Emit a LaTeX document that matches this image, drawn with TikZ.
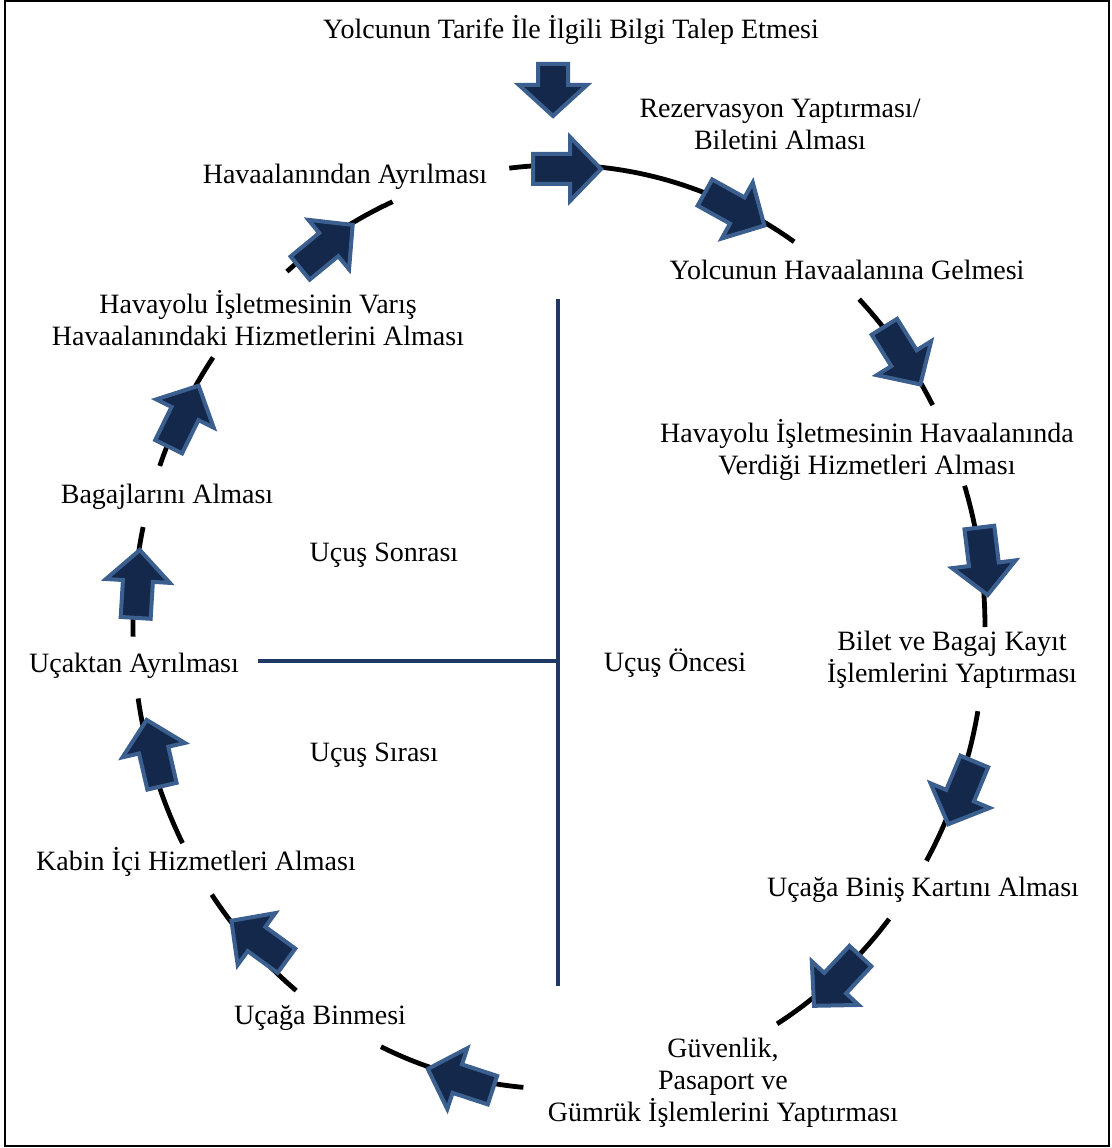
\documentclass[tikz,border=0pt]{standalone}
\usepackage{fontspec}
\setmainfont{Liberation Serif}
\definecolor{arrfill}{HTML}{13284A}
\definecolor{arrborder}{HTML}{3B6090}
\definecolor{divcol}{HTML}{1F3864}
\tikzset{
  lbl/.style={font=\fontsize{21}{24}\selectfont, inner sep=0pt, align=center},
  ring/.style={line width=3.6pt, black},
  blkarrow/.style={fill=arrfill, draw=arrborder, line width=3pt, line join=miter},
  divider/.style={draw=divcol, line width=3pt},
  blk/.pic={\path[blkarrow] (-3,0) -- (-34,-32) -- (-34,-15) -- (-71,-15) -- (-71,15) -- (-34,15) -- (-34,32) -- cycle;},
  blkshort/.pic={\path[blkarrow] (-3,0) -- (-34,-34) -- (-34,-15) -- (-55,-15) -- (-55,15) -- (-34,15) -- (-34,34) -- cycle;}
}
\begin{document}
\begin{tikzpicture}[x=0.75pt,y=-0.75pt]
\useasboundingbox (0,0) rectangle (1111,1148);
\draw[line width=1.5pt] (5,1.5) rectangle (1109,1146);

% ring segments (ellipse centre 559,627; radii 426,462)
\foreach \a/\b in {263.3/303.5, 314.8/331.3, 342.2/360, 10.5/30.4, 39.2/59.2, 94.8/114.7, 128.1/144.6, 152.1/171.1, 178.8/192.5, 200.4/215.7, 230.3/247}
  \draw[ring] plot[domain=\a:\b, samples=40] ({559+426*cos(\x)},{627+462*sin(\x)});

% divider lines
\coordinate (vtop) at (558,299);
\coordinate (vbot) at (558,986);
\coordinate (hl) at (258,661);
\coordinate (hr) at (558,661);
\draw[divider] (vtop) -- (vbot);
\draw[divider] (hl) -- (hr);

% block arrows
\pic[rotate=-90] at (553,119) {blkshort};
\pic[rotate=0] at (604,169) {blk};
\pic[rotate=-29] at (767,227) {blk};
\pic[rotate=-58] at (922,387) {blk};
\pic[rotate=-83] at (988,598) {blk};
\pic[rotate=-112.6] at (947,827) {blk};
\pic[rotate=-133] at (812,1008) {blk};
\pic[rotate=161.8] at (425,1068) {blk};
\pic[rotate=144] at (229,919) {blk};
\pic[rotate=103] at (146,717) {blk};
\pic[rotate=86.5] at (140,547) {blk};
\pic[rotate=63.8] at (200,383) {blk};
\pic[rotate=39.4] at (355,223) {blk};

% labels
\node[lbl] (t0) at (571,30) {Yolcunun Tarife İle İlgili Bilgi Talep Etmesi};
\node[lbl] (t1) at (780,124) {Rezervasyon Yaptırması/\\Biletini Alması};
\node[lbl] (t2) at (847,270) {Yolcunun Havaalanına Gelmesi};
\node[lbl] (t3) at (867,450) {Havayolu İşletmesinin Havaalanında\\Verdiği Hizmetleri Alması};
\node[lbl] (t4) at (952,660) {Bilet ve Bagaj Kayıt\\İşlemlerini Yaptırması};
\node[lbl] (t5) at (923,890) {Uçağa Biniş Kartını Alması};
\node[lbl] (t6) at (723,1083) {Güvenlik,\\Pasaport ve\\Gümrük İşlemlerini Yaptırması};
\node[lbl] (t7) at (320,1018) {Uçağa Binmesi};
\node[lbl] (t8) at (196,862) {Kabin İçi Hizmetleri Alması};
\node[lbl] (t9) at (134,666) {Uçaktan Ayrılması};
\node[lbl] (t10) at (167,497) {Bagajlarını Alması};
\node[lbl] (t11) at (258,318) {Havayolu İşletmesinin Varış\\Havaalanındaki Hizmetlerini Alması};
\node[lbl] (t12) at (345,177) {Havaalanından Ayrılması};
\node[lbl] (p1) at (384,555) {Uçuş Sonrası};
\node[lbl] (p2) at (675,663) {Uçuş Öncesi};
\node[lbl] (p3) at (374,755) {Uçuş Sırası};
\end{tikzpicture}
\end{document}
